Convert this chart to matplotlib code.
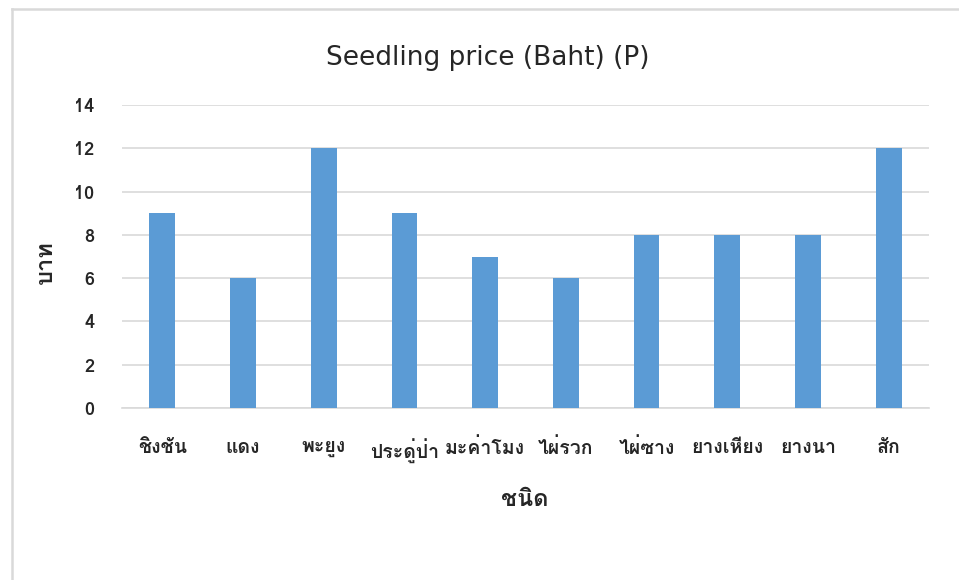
import numpy as np
import matplotlib
matplotlib.use('Agg')
import matplotlib.pyplot as plt
from matplotlib import font_manager
from matplotlib.ft2font import FT2Font

species = ['ชิงชัน', 'แดง', 'พะยูง', 'ประดู่ป่า', 'มะค่าโมง', 'ไผ่รวก',
           'ไผ่ซาง', 'ยางเหียง', 'ยางนา', 'สัก']
price = [9, 6, 12, 9, 7, 6, 8, 8, 8, 12]
yticks = [0, 2, 4, 6, 8, 10, 12, 14]

# find an installed font that actually carries Thai glyphs
thai_fam = None
for f in font_manager.fontManager.ttflist:
    try:
        if 0x0E01 in FT2Font(f.fname).get_charmap():
            thai_fam = f.name
            break
    except Exception:
        pass
fams = ([thai_fam] if thai_fam else []) + ['DejaVu Sans']
plt.rcParams['font.family'] = fams

fig = plt.figure(figsize=(9.59, 5.8), dpi=100)
ax = fig.add_axes([122/959, 1 - 408/580, 807/959, 303/580])

x = np.arange(len(species))
ax.bar(x, price, width=0.32, color='#5b9bd5', zorder=3)
ax.set_xlim(-0.5, len(species) - 0.5)
ax.set_ylim(0, 14)
ax.set_yticks(yticks)
ax.set_xticks(x)
ax.set_xticklabels(species, fontsize=14, fontweight='bold', color='#262626')
ax.tick_params(axis='y', labelsize=13, labelcolor='#262626', length=0, pad=20)
for lab in ax.get_yticklabels():
    lab.set_fontweight('bold')
ax.tick_params(axis='x', length=0, pad=22)
ax.grid(axis='y', color='#d9d9d9', linewidth=1.2, zorder=0)
for s in ['top', 'right', 'left']:
    ax.spines[s].set_visible(False)
ax.spines['bottom'].set_color('#d9d9d9')
ax.spines['bottom'].set_linewidth(1.2)

ax.set_ylabel('บาท', fontsize=17, fontweight='bold', color='#262626')
ax.yaxis.set_label_coords(-(122 - 45) / 807, 0.48)
ax.set_xlabel('ชนิด', fontsize=17, fontweight='bold', color='#262626')
ax.xaxis.set_label_coords((525 - 122) / 807, -(500 - 408) / 303)
ax.xaxis.label.set_va('center')
ax.yaxis.label.set_va('center')
fig.text(488/959, 1 - 58/580, 'Seedling price (Baht) (P)', fontsize=19,
         ha='center', va='center', color='#262626', family='DejaVu Sans')

# chart border, top and left edges
fig.add_artist(plt.Line2D([12/959, 1], [1 - 9/580, 1 - 9/580], color='#d9d9d9', lw=1.8))
fig.add_artist(plt.Line2D([12/959, 12/959], [0, 1 - 9/580], color='#d9d9d9', lw=1.8))

fig.savefig('out.png', dpi=100, facecolor='white')
